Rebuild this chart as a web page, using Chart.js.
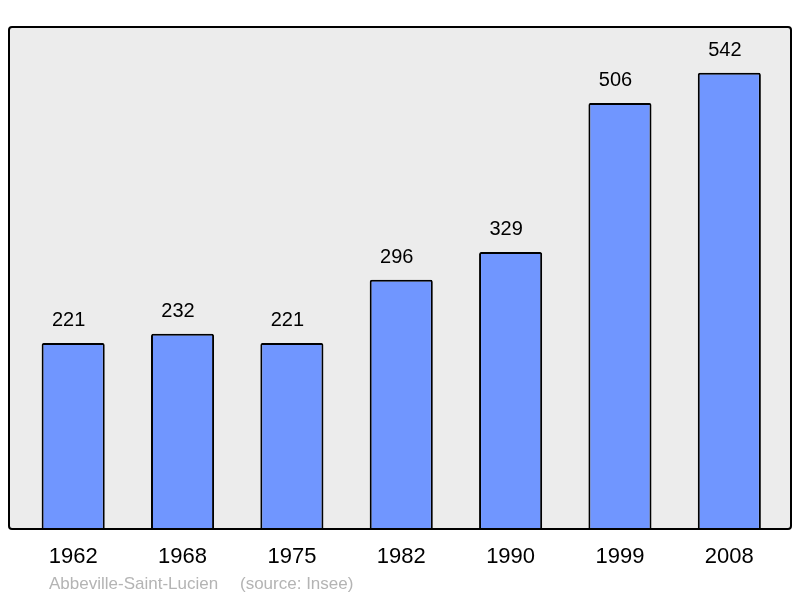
<!DOCTYPE html>
<html>
<head>
<meta charset="utf-8">
<script src="https://cdn.jsdelivr.net/npm/chart.js@4"></script>
<style>
  body { margin: 0; background: #fff; }
  #wrap { width: 800px; height: 598px; }
</style>
</head>
<body>
<div id="wrap"><canvas id="myChart" width="800" height="598"></canvas></div>
<script>
'use strict'

// chart data
const years = ['1962', '1968', '1975', '1982', '1990', '1999', '2008'];
const population = [221, 232, 221, 296, 329, 506, 542];

const fontFamily = '"Liberation Sans", Arial, sans-serif';

// grey frame behind the bars
const framePlugin = {
  id: 'frame',
  beforeDatasetsDraw(chart) {
    const a = chart.chartArea;
    const ctx = chart.ctx;
    ctx.save();
    ctx.fillStyle = '#ececec';
    ctx.beginPath();
    ctx.roundRect(9, a.top, 782, a.bottom - a.top, 3);
    ctx.fill();
    ctx.restore();
  },
  afterDatasetsDraw(chart) {
    const a = chart.chartArea;
    const ctx = chart.ctx;
    ctx.save();
    ctx.strokeStyle = '#000';
    ctx.lineWidth = 2;
    ctx.beginPath();
    ctx.roundRect(9, a.top, 782, a.bottom - a.top, 3);
    ctx.stroke();

    // value labels over each bar (sit slightly left of centre)
    const meta = chart.getDatasetMeta(0);
    ctx.fillStyle = '#000';
    ctx.font = '20px ' + fontFamily;
    ctx.textAlign = 'center';
    ctx.textBaseline = 'middle';
    meta.data.forEach(function (bar, i) {
      ctx.fillText(population[i], bar.x - 4.5, bar.y - 22);
    });

    // source line
    ctx.fillStyle = '#b4b4b4';
    ctx.font = '17px ' + fontFamily;
    ctx.textAlign = 'left';
    ctx.fillText('Abbeville-Saint-Lucien', 49, 584);
    ctx.fillText('(source: Insee)', 240, 584);
    ctx.restore();
  }
};

const data = {
  labels: years,
  datasets: [{
    data: population,
    backgroundColor: '#7096ff',
    borderColor: '#000',
    borderWidth: 2,
    borderRadius: 2,
    borderSkipped: 'bottom',
    categoryPercentage: 1,
    barPercentage: 0.577
  }]
};

const config = {
  type: 'bar',
  data: data,
  options: {
    responsive: false,
    animation: false,
    layout: {
      padding: { top: 27, left: 18.5, right: 16, bottom: 12.6 }
    },
    plugins: {
      legend: { display: false },
      tooltip: { enabled: false }
    },
    scales: {
      x: {
        grid: { display: false, drawTicks: false },
        border: { display: false },
        ticks: {
          color: '#000',
          font: { size: 22, family: fontFamily },
          padding: 15
        }
      },
      y: {
        display: false,
        min: 0,
        max: 596.2
      }
    }
  },
  plugins: [framePlugin]
};

let canvasChart = document.getElementById('myChart');
const myChart = new Chart(canvasChart, config);
</script>
</body>
</html>
